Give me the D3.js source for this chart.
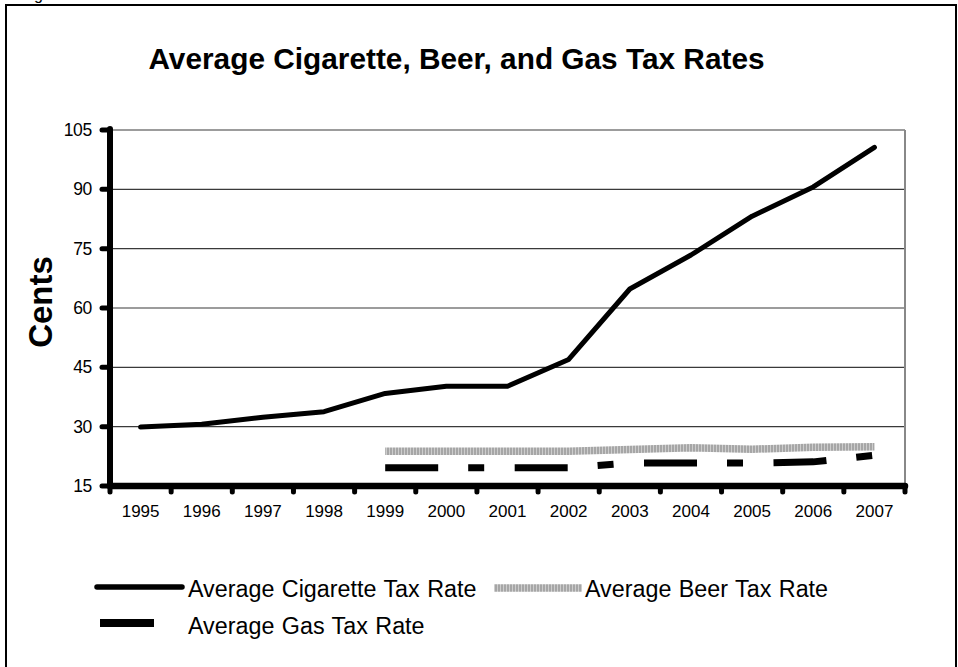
<!DOCTYPE html>
<html><head><meta charset="utf-8">
<script src="https://cdn.jsdelivr.net/npm/d3@7/dist/d3.min.js"></script>
<style>
body{margin:0;background:#fff}
svg{display:block}
text{font-family:"Liberation Sans",Arial,sans-serif;fill:#000}
</style>
</head><body>
<svg id="c" width="958" height="667"></svg>
<script>
const years = ["1995","1996","1997","1998","1999","2000","2001","2002","2003","2004","2005","2006","2007"];
const cigarette = [29.9, 30.6, 32.4, 33.8, 38.4, 40.2, 40.2, 47.0, 64.8, 73.4, 83.2, 90.6, 100.6];
const beer = [null, null, null, null, 23.8, 23.8, 23.8, 23.8, 24.2, 24.7, 24.3, 24.8, 24.9];
const gas = [null, null, null, null, 19.6, 19.6, 19.6, 19.6, 20.8, 20.8, 20.8, 21.1, 22.8];
const yTicks = [15, 30, 45, 60, 75, 90, 105];
const title = "Average Cigarette, Beer, and Gas Tax Rates";
const yLabel = "Cents";
const seriesNames = ["Average Cigarette Tax Rate", "Average Beer Tax Rate", "Average Gas Tax Rate"];

const svg = d3.select("#c");
const L = 110, R = 905, T = 130, B = 486;

// pattern for beer line
const defs = svg.append("defs");
const pat = defs.append("pattern").attr("id","beerPat").attr("patternUnits","userSpaceOnUse")
  .attr("width",3).attr("height",3);
pat.append("rect").attr("width",3).attr("height",3).attr("fill","#cdcdcd");
pat.append("rect").attr("width",2).attr("height",3).attr("fill","#a6a6a6");

// outer frame
svg.append("rect").attr("x",6).attr("y",5).attr("width",950).attr("height",720)
  .attr("fill","none").attr("stroke","#000").attr("stroke-width",2);
svg.append("text").attr("x",34).attr("y",-0.5).attr("font-size",16).text("g");

const x = d3.scaleBand().domain(years).range([L, R]).padding(0);
const y = d3.scaleLinear().domain([15, 105]).range([B, T]);
const cx = d => x(d) + x.bandwidth() / 2;

// gridlines
svg.append("g").selectAll("line").data(yTicks.filter(v => v > 15)).join("line")
  .attr("x1", L).attr("x2", R).attr("y1", d => y(d)).attr("y2", d => y(d))
  .attr("stroke", "#3a3a3a").attr("stroke-width", 1.2);
// right border
svg.append("line").attr("x1", R).attr("x2", R).attr("y1", T).attr("y2", B)
  .attr("stroke", "#888").attr("stroke-width", 2);

// y axis labels
const ya = svg.append("g").attr("transform", `translate(${L - 18},0)`)
  .call(d3.axisLeft(y).tickValues(yTicks).tickSize(0).tickPadding(0));
ya.select(".domain").remove();
ya.selectAll("text").attr("font-size", 17.5).attr("letter-spacing", -0.3)
  .attr("font-family", "Liberation Sans, Arial, sans-serif").attr("fill", "#000");

// y axis ticks + line
svg.append("g").selectAll("line").data(yTicks).join("line")
  .attr("x1", L - 8).attr("x2", L).attr("y1", d => y(d)).attr("y2", d => y(d))
  .attr("stroke", "#000").attr("stroke-width", 5).attr("stroke-linecap", "round");
svg.append("line").attr("x1", L).attr("x2", L).attr("y1", T - 1).attr("y2", B)
  .attr("stroke", "#000").attr("stroke-width", 6).attr("stroke-linecap", "round");

// x axis labels
const xa = svg.append("g").attr("transform", `translate(0,${B})`)
  .call(d3.axisBottom(x).tickSize(0).tickPadding(19));
xa.select(".domain").remove();
xa.selectAll("text").attr("font-size", 17)
  .attr("font-family", "Liberation Sans, Arial, sans-serif").attr("fill", "#000");

// x axis boundary ticks + line
const bounds = years.map(d => x(d)).concat([R]);
svg.append("g").selectAll("line").data(bounds).join("line")
  .attr("x1", d => d).attr("x2", d => d).attr("y1", B).attr("y2", B + 6)
  .attr("stroke", "#000").attr("stroke-width", 5).attr("stroke-linecap", "round");
svg.append("line").attr("x1", L).attr("x2", R).attr("y1", B).attr("y2", B)
  .attr("stroke", "#000").attr("stroke-width", 6.5).attr("stroke-linecap", "round");

// lines
const mk = arr => d3.line().defined((d, i) => arr[i] != null)
  .x((d, i) => cx(years[i])).y((d, i) => y(arr[i]));

svg.append("path").datum(beer).attr("d", mk(beer)(beer))
  .attr("fill", "none").attr("stroke", "url(#beerPat)").attr("stroke-width", 7.5);
svg.append("path").datum(gas).attr("d", mk(gas)(gas))
  .attr("fill", "none").attr("stroke", "#000").attr("stroke-width", 7)
  .attr("stroke-dasharray", "53 30 16 30.5");
svg.append("path").datum(cigarette).attr("d", mk(cigarette)(cigarette))
  .attr("fill", "none").attr("stroke", "#000").attr("stroke-width", 5)
  .attr("stroke-linecap", "round").attr("stroke-linejoin", "round");

// title
svg.append("text").attr("x", 456.5).attr("y", 69).attr("text-anchor", "middle")
  .attr("font-size", 29.8).attr("font-weight", "bold").text(title);

// y label
svg.append("text").attr("transform", "translate(52,302) rotate(-90)")
  .attr("text-anchor", "middle").attr("font-size", 33).attr("font-weight", "bold").text(yLabel);

// legend
const lg = svg.append("g");
lg.append("line").attr("x1", 97).attr("x2", 182).attr("y1", 587).attr("y2", 587)
  .attr("stroke", "#000").attr("stroke-width", 5.5).attr("stroke-linecap", "round");
lg.append("text").attr("x", 188).attr("y", 597).attr("font-size", 23.3).attr("word-spacing", 1).text(seriesNames[0]);
lg.append("line").attr("x1", 494).attr("x2", 582).attr("y1", 588).attr("y2", 588)
  .attr("stroke", "url(#beerPat)").attr("stroke-width", 7.5);
lg.append("text").attr("x", 585).attr("y", 597).attr("font-size", 23.3).attr("word-spacing", 1).text(seriesNames[1]);
lg.append("line").attr("x1", 100).attr("x2", 154).attr("y1", 623).attr("y2", 623)
  .attr("stroke", "#000").attr("stroke-width", 8);
lg.append("text").attr("x", 188).attr("y", 634).attr("font-size", 23.3).attr("word-spacing", 1).text(seriesNames[2]);
</script>
</body></html>
